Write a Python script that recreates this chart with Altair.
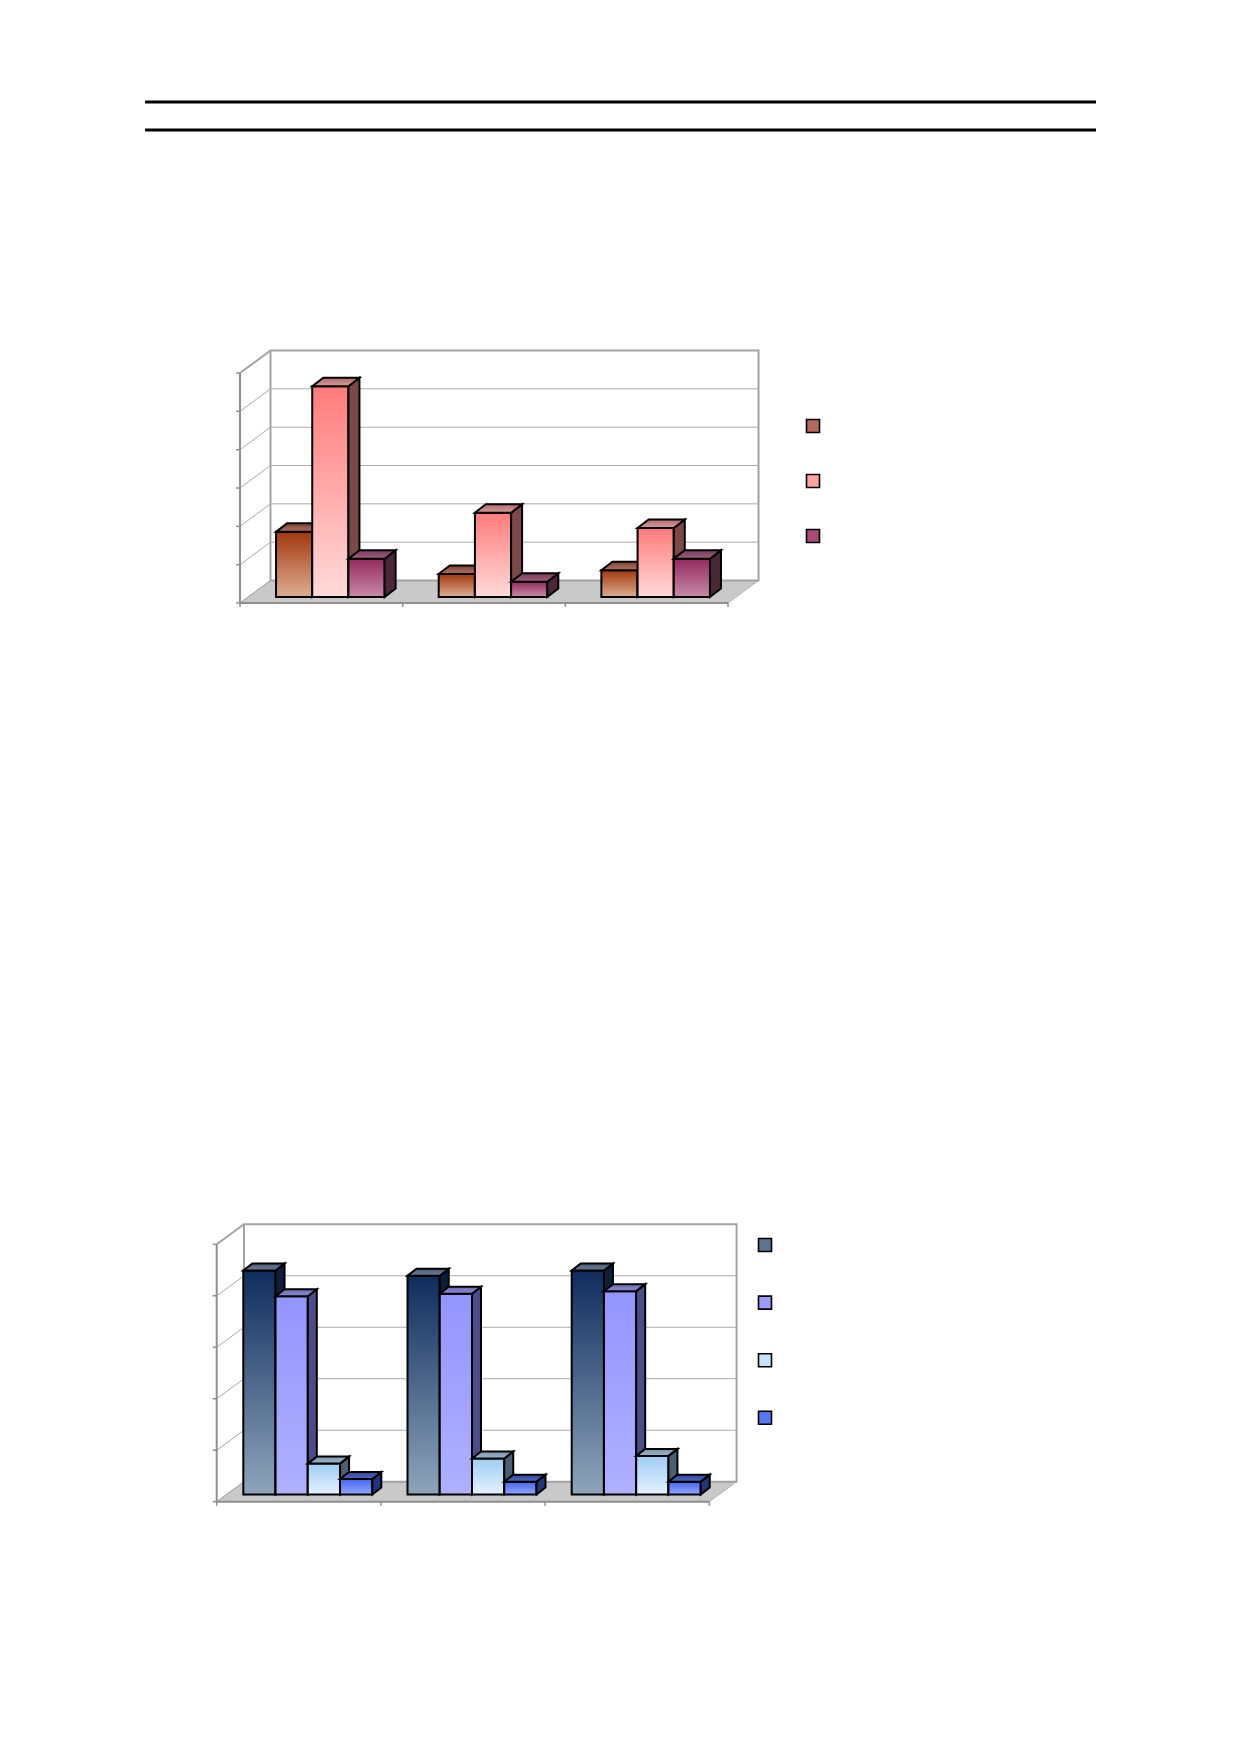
import altair as alt
import pandas as pd

# ---------------- data ----------------
top_categories = ["1", "2", "3"]
top_series = ["Serie 1", "Serie 2", "Serie 3"]
top_s1 = [17, 6, 7]
top_s2 = [55, 22, 18]
top_s3 = [10, 4, 10]
top_axis_max = 60
top_axis_step = 10

bottom_categories = ["1", "2", "3"]
bottom_series = ["Serie 1", "Serie 2", "Serie 3", "Serie 4"]
bottom_s1 = [87, 85, 87]
bottom_s2 = [77, 78, 79]
bottom_s3 = [12, 14, 15]
bottom_s4 = [6, 5, 5]
bottom_axis_max = 100
bottom_axis_step = 20

# ---------------- page / layout ----------------
W, H = 1200, 1720
MARGIN = 8

top_geo = dict(front_x=240, unit_x=162.67, front_base=603, unit_y=38.33 / 10,
               wall_dx=30.5, wall_dy=22.5, recess_dx=9, recess_dy=6,
               bar_w=36.2, depth_dx=11, depth_dy=8.5, tick=4)
bottom_geo = dict(front_x=216.7, unit_x=164.2, front_base=1501.7, unit_y=51.48 / 20,
                  wall_dx=27.3, wall_dy=20, recess_dx=9, recess_dy=7.2,
                  bar_w=32.25, depth_dx=9, depth_dy=7, tick=4)

# legend entry row height measured in the render is ~21px (symbol + empty label)
LEGEND_ROW = 21
top_legend_geo = dict(x=812, y0=425, step=55.0, size=13)
bottom_legend_geo = dict(x=764, y0=1244, step=57.6, size=13)

top_styles = [
    dict(front=("#a2380e", "#dcae92"), top=("#7f4234", "#ad7564"), side="#5a281c"),
    dict(front=("#ff7b7b", "#ffdada"), top=("#b36c6c", "#d49a9a"), side="#7a4949"),
    dict(front=("#932a5c", "#c98aa9"), top=("#773a5a", "#a06080"), side="#4a2838"),
]
bottom_styles = [
    dict(front=("#0f2c5c", "#8ea5bb"), top=("#4e5d78", "#6d7d96"), side="#0e1d38"),
    dict(front=("#9494ff", "#b0b0ff"), top=("#6e6eb8", "#8a8ad0"), side="#4c4c88"),
    dict(front=("#9fccf4", "#e4f2ff"), top=("#7d98b0", "#9ab2c8"), side="#4a5f72"),
    dict(front=("#4564ee", "#93a8ff"), top=("#34479c", "#5068c0"), side="#22357a"),
]
top_legend_colors = ["#b26c59", "#ffa3a3", "#a84a78"]
bottom_legend_colors = ["#5d7593", "#9a9aff", "#c6e2fb", "#5a78f5"]


def grad(c_top, c_bottom):
    return alt.Gradient(
        gradient="linear",
        stops=[alt.GradientStop(color=c_top, offset=0), alt.GradientStop(color=c_bottom, offset=1)],
        x1=0, x2=0, y1=0, y2=1,
    )


def build(categories, series_names, series_values, vmax, vstep, geo, styles, legend_colors, lg):
    ux, uy = geo["unit_x"], geo["unit_y"]
    ox = geo["front_x"] - MARGIN
    oy = geo["front_base"] - MARGIN
    sx = alt.Scale(domain=[-ox / ux, (W - ox) / ux], nice=False, zero=False)
    sy = alt.Scale(domain=[(oy - H) / uy, oy / uy], nice=False, zero=False)
    n = len(categories)
    ns = len(series_names)
    wdx, wdy = geo["wall_dx"] / ux, geo["wall_dy"] / uy
    rx, ry = geo["recess_dx"] / ux, geo["recess_dy"] / uy
    bw = geo["bar_w"] / ux
    gap = (1 - bw * ns) / 2
    bdx, bdy = geo["depth_dx"] / ux, geo["depth_dy"] / uy
    tx, ty = geo["tick"] / ux, geo["tick"] / uy
    levels = list(range(0, vmax + 1, vstep))

    def X(f):
        return alt.X(f, type="quantitative", scale=sx, axis=None, stack=None)

    def Y(f):
        return alt.Y(f, type="quantitative", scale=sy, axis=None, stack=None)

    layers = []
    floor_df = pd.DataFrame({"y": [0, wdy], "xa": [0, wdx], "xb": [n, n + wdx]})
    layers.append(alt.Chart(floor_df).mark_area(orient="horizontal", color="#c9c9c9",
                                                 stroke="#b3b3b3", strokeWidth=1)
                  .encode(y=Y("y"), x=X("xa"), x2="xb"))
    wall_df = pd.DataFrame({"xa": [wdx], "xb": [n + wdx], "ya": [wdy], "yb": [vmax + wdy]})
    layers.append(alt.Chart(wall_df).mark_rect(fill="white", stroke="#a3a3a3", strokeWidth=2)
                  .encode(x=X("xa"), x2="xb", y=Y("ya"), y2="yb"))
    grid_df = pd.DataFrame({"xa": wdx, "xb": n + wdx, "y": [v + wdy for v in levels[1:-1]]})
    layers.append(alt.Chart(grid_df).mark_rule(color="#ababab", strokeWidth=1)
                  .encode(x=X("xa"), x2="xb", y=Y("y")))
    side_df = pd.DataFrame({"xa": 0.0, "xb": wdx, "ya": levels[:-1],
                            "yb": [v + wdy for v in levels[:-1]]})
    layers.append(alt.Chart(side_df).mark_rule(color="#a8a8a8", strokeWidth=1)
                  .encode(x=X("xa"), x2="xb", y=Y("ya"), y2="yb"))
    topline_df = pd.DataFrame({"xa": [0.0], "xb": [wdx], "ya": [vmax], "yb": [vmax + wdy]})
    layers.append(alt.Chart(topline_df).mark_rule(color="#a3a3a3", strokeWidth=2)
                  .encode(x=X("xa"), x2="xb", y=Y("ya"), y2="yb"))
    vaxis_df = pd.DataFrame({"x": [0.0], "ya": [0], "yb": [vmax]})
    layers.append(alt.Chart(vaxis_df).mark_rule(color="#8f8f8f", strokeWidth=2)
                  .encode(x=X("x"), y=Y("ya"), y2="yb"))
    vtick_df = pd.DataFrame({"xa": -tx, "xb": 0.0, "y": levels})
    layers.append(alt.Chart(vtick_df).mark_rule(color="#8f8f8f", strokeWidth=1.5)
                  .encode(x=X("xa"), x2="xb", y=Y("y")))
    caxis_df = pd.DataFrame({"xa": [0.0], "xb": [float(n)], "y": [0.0]})
    layers.append(alt.Chart(caxis_df).mark_rule(color="#8f8f8f", strokeWidth=2)
                  .encode(x=X("xa"), x2="xb", y=Y("y")))
    ctick_df = pd.DataFrame({"x": [float(c) for c in range(n + 1)], "ya": 0.0, "yb": -ty})
    layers.append(alt.Chart(ctick_df).mark_rule(color="#8f8f8f", strokeWidth=1.5)
                  .encode(x=X("x"), y=Y("ya"), y2="yb"))

    for s, (vals, st) in enumerate(zip(series_values, styles)):
        front, side, top = [], [], []
        for c, v in enumerate(vals):
            xl = c + rx + gap + s * bw
            xr = xl + bw
            yb, yt = ry, ry + v
            bid = f"{s}-{c}"
            front.append({"xl": xl, "xr": xr, "yb": yb, "yt": yt})
            side.append({"x": xr, "lo": yb, "hi": yt, "bar": bid})
            side.append({"x": xr + bdx, "lo": yb + bdy, "hi": yt + bdy, "bar": bid})
            top.append({"y": yt, "xa": xl, "xb": xr, "bar": bid})
            top.append({"y": yt + bdy, "xa": xl + bdx, "xb": xr + bdx, "bar": bid})
        layers.append(alt.Chart(pd.DataFrame(front))
                      .mark_rect(color=grad(*st["front"]), stroke="black", strokeWidth=2,
                                 strokeJoin="miter")
                      .encode(x=X("xl"), x2="xr", y=Y("yb"), y2="yt"))
        layers.append(alt.Chart(pd.DataFrame(side))
                      .mark_area(orient="vertical", color=st["side"], stroke="black",
                                 strokeWidth=2, strokeJoin="miter")
                      .encode(x=X("x"), y=Y("hi"), y2="lo", detail="bar:N"))
        layers.append(alt.Chart(pd.DataFrame(top))
                      .mark_area(orient="horizontal", color=grad(*st["top"]), stroke="black",
                                 strokeWidth=2, strokeJoin="miter")
                      .encode(y=Y("y"), x=X("xa"), x2="xb", detail="bar:N"))

    half = lg["size"] / 2
    legend = alt.Legend(orient="none",
                        legendX=lg["x"] - MARGIN - half,
                        legendY=lg["y0"] - MARGIN - half,
                        title=None, labelExpr="''", labelFontSize=8,
                        symbolType="square", symbolSize=lg["size"] ** 2,
                        symbolStrokeColor="black", symbolStrokeWidth=1.6,
                        symbolOpacity=1, rowPadding=lg["step"] - LEGEND_ROW,
                        padding=0, offset=0)
    color_enc = alt.Color("series:N",
                          scale=alt.Scale(domain=series_names, range=legend_colors),
                          legend=legend)
    leg_df = pd.DataFrame({"series": series_names, "x": 0.5, "y": 1.0})
    leg_layer = alt.Chart(leg_df).mark_square(size=0, filled=True).encode(
        x=X("x"), y=Y("y"), color=color_enc)
    layers.append(leg_layer)
    return alt.layer(*layers)


top_chart = build(top_categories, top_series, [top_s1, top_s2, top_s3], top_axis_max,
                  top_axis_step, top_geo, top_styles, top_legend_colors, top_legend_geo)
bottom_chart = build(bottom_categories, bottom_series, [bottom_s1, bottom_s2, bottom_s3, bottom_s4],
                     bottom_axis_max, bottom_axis_step, bottom_geo, bottom_styles,
                     bottom_legend_colors, bottom_legend_geo)

dummy = pd.DataFrame({"k": [0]})
head1 = alt.Chart(dummy).mark_rule(color="black", strokeWidth=3).encode(
    x=alt.value(145 - MARGIN), x2=alt.value(1096 - MARGIN), y=alt.value(102 - MARGIN))
head2 = alt.Chart(dummy).mark_rule(color="black", strokeWidth=3).encode(
    x=alt.value(145 - MARGIN), x2=alt.value(1096 - MARGIN), y=alt.value(130 - MARGIN))

chart = (
    alt.layer(top_chart, bottom_chart, head1, head2)
    .resolve_scale(x="independent", y="independent", color="independent")
    .resolve_legend(color="independent")
    .properties(width=W, height=H, padding=0, autosize="none", background="white")
    .configure_view(stroke=None)
)

chart.save("out.html", embed_options={"renderer": "svg", "actions": False})
